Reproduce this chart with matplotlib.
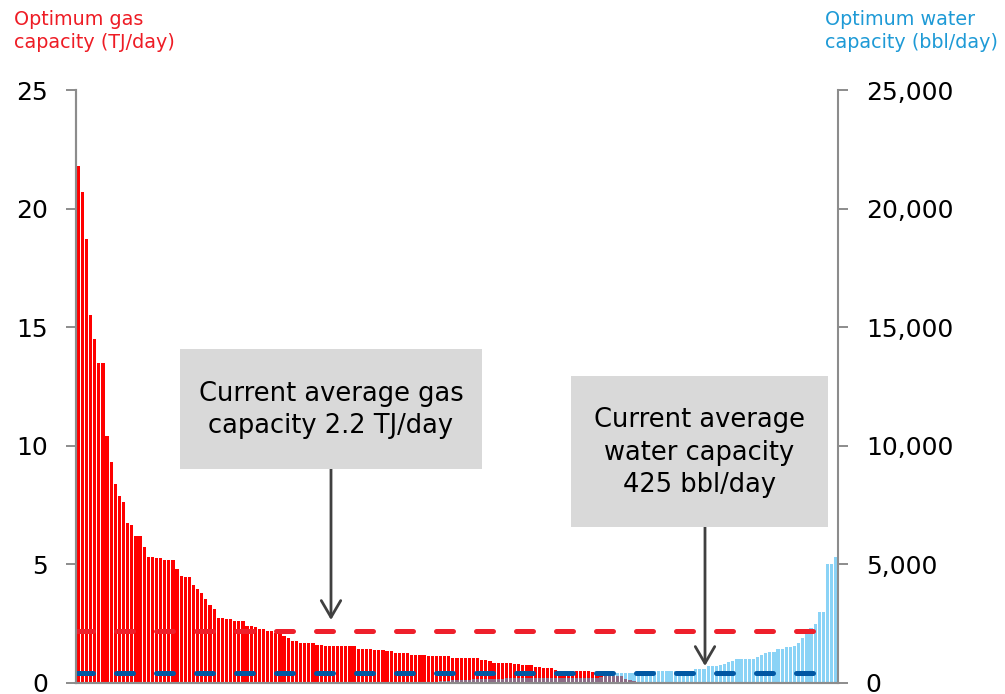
"""Optimum gas vs water capacity per well, sorted, with current averages."""

import matplotlib

matplotlib.use("Agg")

import matplotlib.pyplot as plt
import numpy as np
from matplotlib.patches import Rectangle

# one bar per well, left (gas) axis in TJ/day
GAS_TJ_DAY = [
    21.8, 20.7, 18.7, 15.5, 14.5, 13.5, 13.5, 10.4, 9.3, 8.4,
    7.9, 7.65, 6.75, 6.65, 6.2, 6.2, 5.75, 5.3, 5.3, 5.25,
    5.25, 5.2, 5.2, 5.2, 4.8, 4.5, 4.45, 4.45, 4.15, 3.95,
    3.8, 3.55, 3.3, 3.1, 2.75, 2.75, 2.7, 2.7, 2.6, 2.6,
    2.6, 2.4, 2.4, 2.35, 2.28, 2.28, 2.2, 2.2, 2.1, 2.1,
    1.98, 1.88, 1.78, 1.78, 1.67, 1.67, 1.67, 1.67, 1.62, 1.6,
    1.56, 1.56, 1.56, 1.56, 1.56, 1.56, 1.56, 1.56, 1.45, 1.45,
    1.45, 1.45, 1.41, 1.41, 1.41, 1.35, 1.35, 1.25, 1.25, 1.25,
    1.25, 1.19, 1.19, 1.19, 1.19, 1.14, 1.14, 1.14, 1.14, 1.14,
    1.14, 1.04, 1.04, 1.04, 1.04, 1.04, 1.04, 1.04, 0.99, 0.99,
    0.93, 0.83, 0.83, 0.83, 0.83, 0.83, 0.79, 0.79, 0.74, 0.74,
    0.74, 0.66, 0.66, 0.62, 0.62, 0.62, 0.55, 0.52, 0.52, 0.52,
    0.52, 0.51, 0.51, 0.51, 0.51, 0.45, 0.45, 0.38, 0.38, 0.38,
    0.3, 0.3, 0.3, 0.18, 0.12, 0.07, 0, 0, 0, 0,
    0, 0, 0, 0, 0, 0, 0, 0, 0, 0,
    0, 0, 0, 0, 0, 0, 0, 0, 0, 0,
    0, 0, 0, 0, 0, 0, 0, 0, 0, 0,
    0, 0, 0, 0, 0, 0, 0, 0, 0, 0,
    0, 0, 0, 0, 0,
]

# same wells, right (water) axis in bbl/day
WATER_BBL_DAY = [
    0, 0, 0, 0, 0, 0, 0, 0, 0, 0,
    0, 0, 0, 0, 0, 0, 0, 0, 0, 0,
    0, 0, 0, 0, 0, 0, 0, 0, 0, 0,
    0, 0, 0, 0, 0, 0, 0, 0, 0, 0,
    0, 0, 0, 0, 0, 0, 0, 0, 0, 0,
    0, 0, 0, 0, 0, 0, 0, 0, 0, 0,
    0, 0, 0, 0, 0, 0, 0, 0, 0, 0,
    0, 0, 0, 0, 0, 0, 0, 0, 0, 0,
    0, 0, 0, 0, 0, 0, 0, 0, 90, 100,
    100, 110, 110, 120, 120, 130, 150, 150, 160, 160,
    170, 170, 180, 180, 190, 190, 200, 200, 200, 210,
    210, 220, 220, 220, 220, 220, 220, 220, 220, 220,
    220, 220, 220, 220, 220, 220, 220, 260, 280, 300,
    330, 410, 410, 410, 410, 410, 490, 490, 490, 490,
    490, 490, 490, 490, 490, 490, 490, 490, 490, 490,
    590, 590, 590, 720, 720, 720, 760, 780, 870, 930,
    1000, 1000, 1000, 1000, 1000, 1080, 1180, 1250, 1320, 1320,
    1420, 1420, 1500, 1500, 1550, 1700, 1900, 2100, 2300, 2500,
    3000, 3000, 5000, 5000, 5300,
]

AVG_GAS_TJ_DAY = 2.2
AVG_WATER_BBL_DAY = 425

GAS_TICKS = [0, 5, 10, 15, 20, 25]
WATER_TICKS = [0, 5000, 10000, 15000, 20000, 25000]
WATER_TICK_LABELS = ["0", "5,000", "10,000", "15,000", "20,000", "25,000"]

GAS_AXIS_LABEL = "Optimum gas\ncapacity (TJ/day)"
WATER_AXIS_LABEL = "Optimum water\ncapacity (bbl/day)"
GAS_NOTE = "Current average gas\ncapacity 2.2 TJ/day"
WATER_NOTE = "Current average\nwater capacity\n425 bbl/day"

RED = "#FF0000"
LIGHT_BLUE = "#8AD3F6"
OVERLAP = "#8C6B86"
RED_DASH = "#EE1F2B"
BLUE_DASH = "#0057A3"
GAS_TEXT = "#EE1C25"
WATER_TEXT = "#1E9AD6"
SPINE = "#8C8C8C"
NOTE_BOX = "#D9D9D9"
ARROW = "#404040"

W, H = 1005, 694


def fx(px):
    return px / W


def fy(py):
    return 1 - py / H


def main():
    plt.rcParams["font.family"] = ["DejaVu Sans"]

    gas = np.array(GAS_TJ_DAY)
    water = np.array(WATER_BBL_DAY)
    x = np.arange(len(gas))
    # water shares the plot through the fixed ratio of the two axes
    ratio = GAS_TICKS[-1] / WATER_TICKS[-1]
    water_scaled = water * ratio
    overlap = np.minimum(gas, water_scaled)

    fig = plt.figure(figsize=(W / 100, H / 100), dpi=100)
    ax = fig.add_axes([fx(76), fy(683), fx(838) - fx(76), fy(90) - fy(683)])

    bar_w = 0.78
    ax.bar(x, gas, width=bar_w, color=RED, linewidth=0, zorder=2)
    ax.bar(x, water_scaled, width=bar_w, color=LIGHT_BLUE, linewidth=0, zorder=2)
    ax.bar(x, overlap, width=bar_w, color=OVERLAP, linewidth=0, zorder=3)

    line_end = 180.6
    dash = (0, (3.4, 4.6))
    ax.hlines(AVG_GAS_TJ_DAY, -0.5, line_end, colors=RED_DASH, linewidth=3.6,
              linestyles=[dash], capstyle="round", zorder=4)
    ax.hlines(AVG_WATER_BBL_DAY * ratio, -0.5, line_end, colors=BLUE_DASH,
              linewidth=3.6, linestyles=[dash], capstyle="round", zorder=4)

    ax.set_xlim(-0.55, len(gas) - 0.45)
    ax.set_ylim(GAS_TICKS[0], GAS_TICKS[-1])
    ax.set_xticks([])
    ax.set_yticks(GAS_TICKS)
    ax.tick_params(axis="y", direction="out", length=7, width=1.4, color=SPINE,
                   pad=13, labelsize=18)

    ax2 = ax.twinx()
    ax2.set_ylim(WATER_TICKS[0], WATER_TICKS[-1])
    ax2.set_yticks(WATER_TICKS)
    ax2.set_yticklabels(WATER_TICK_LABELS)
    ax2.tick_params(axis="y", direction="out", length=7, width=1.4, color=SPINE,
                    pad=13, labelsize=18)

    for a in (ax, ax2):
        a.spines["top"].set_visible(False)
        for side in ("left", "right", "bottom"):
            a.spines[side].set_color(SPINE)
            a.spines[side].set_linewidth(1.5)
    ax.spines["right"].set_visible(False)

    fig.text(fx(14), fy(10), GAS_AXIS_LABEL, ha="left", va="top", color=GAS_TEXT,
             fontsize=13.8, linespacing=1.25)
    fig.text(fx(998), fy(10), WATER_AXIS_LABEL, ha="right", va="top",
             multialignment="left", color=WATER_TEXT, fontsize=13.8,
             linespacing=1.25)

    _note(fig, (180, 349, 482, 469), GAS_NOTE, (331, 620))
    _note(fig, (571, 376, 828, 527), WATER_NOTE, (705, 666))

    fig.savefig("out.png", dpi=100)
    plt.close(fig)


def _note(fig, box, text, tip):
    x0, y0, x1, y1 = box
    fig.patches.append(
        Rectangle((fx(x0), fy(y1)), fx(x1) - fx(x0), fy(y0) - fy(y1),
                  transform=fig.transFigure, facecolor=NOTE_BOX,
                  edgecolor="none", zorder=1)
    )
    fig.text(fx((x0 + x1) / 2), fy((y0 + y1) / 2 + 1), text, ha="center",
             va="center", fontsize=18.5, linespacing=1.33, zorder=3)
    fig.axes[0].annotate(
        "",
        xy=(fx(tip[0]), fy(tip[1])),
        xycoords="figure fraction",
        xytext=(fx(tip[0]), fy(y1)),
        textcoords="figure fraction",
        arrowprops=dict(arrowstyle="->,head_length=0.6,head_width=0.35",
                        mutation_scale=20, lw=2, color=ARROW,
                        shrinkA=0, shrinkB=0),
        zorder=5,
    )


if __name__ == "__main__":
    main()
